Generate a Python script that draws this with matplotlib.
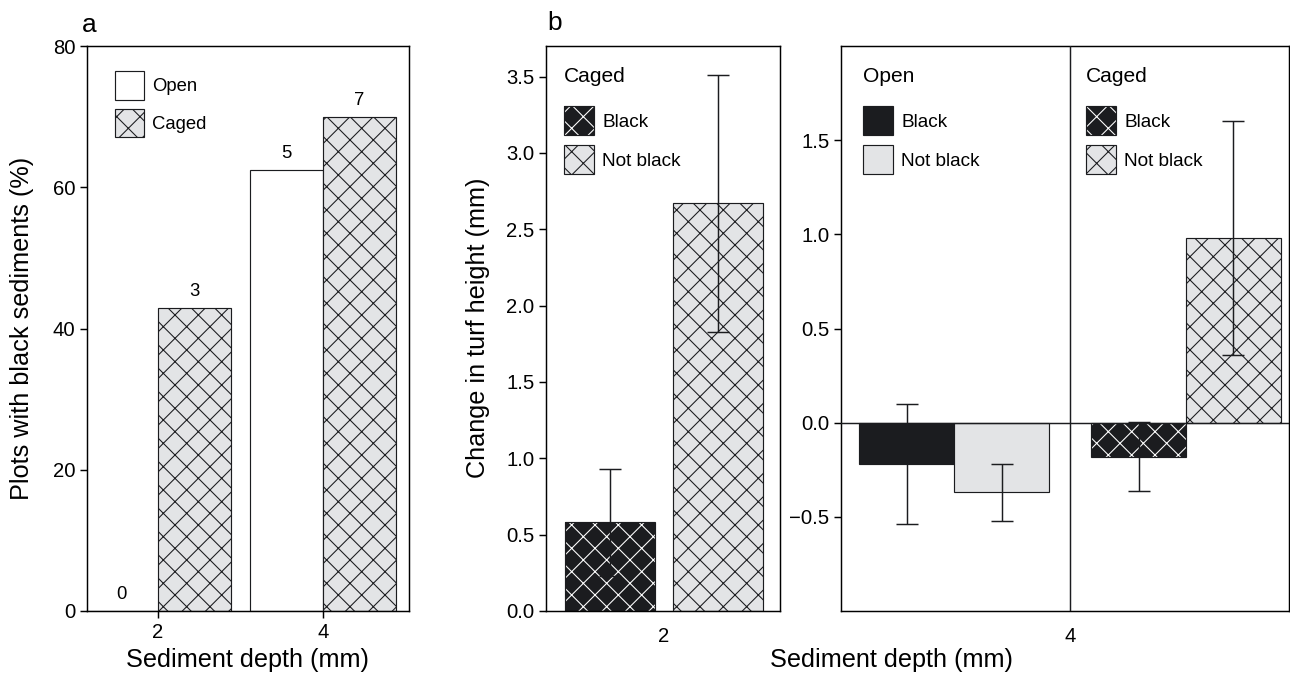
import matplotlib
matplotlib.use('Agg')
import matplotlib.pyplot as plt
from matplotlib.patches import Patch

plt.rcParams['font.family'] = ['Liberation Sans', 'DejaVu Sans']
plt.rcParams['hatch.linewidth'] = 0.55
plt.rcParams['axes.linewidth'] = 0.75

# panel a: % plots with black sediments
depth_a = [2, 4]
open_pct = [0, 62.5]
caged_pct = [42.9, 70.0]
open_n = [0, 5]
caged_n = [3, 7]

# panel b, depth 2 mm (caged only)
caged2_mean = [0.58, 2.67]
caged2_err = [0.35, 0.84]
# panel b, depth 4 mm
open4_mean = [-0.22, -0.37]
open4_err = [0.32, 0.15]
caged4_mean = [-0.18, 0.98]
caged4_err = [0.185, 0.62]

GREY = '#e3e4e6'
BLACK = '#1b1c1f'
HATCH = 'xx'
W, H, DPI = 1290, 673, 140

fig = plt.figure(figsize=(W / DPI, H / DPI), dpi=DPI)


def box(x0, x1, top=46, bot=611):
    return [x0 / W, 1 - bot / H, (x1 - x0) / W, (bot - top) / H]


def hatched_bar(ax, x, y, w, dark):
    if dark:
        ax.bar(x, y, w, color=BLACK, edgecolor='white', hatch=HATCH, linewidth=0, zorder=2)
        ax.bar(x, y, w, fill=False, edgecolor=BLACK, linewidth=0.6, zorder=2)
    else:
        ax.bar(x, y, w, color=GREY, edgecolor=BLACK, hatch=HATCH, linewidth=0.6, zorder=2)


h_open = Patch(facecolor='white', edgecolor=BLACK, linewidth=0.6)
h_grey = Patch(facecolor=GREY, edgecolor=BLACK, linewidth=0.6)
h_grey_x = Patch(facecolor=GREY, edgecolor=BLACK, hatch=HATCH, linewidth=0.6)
h_black = Patch(facecolor=BLACK, edgecolor=BLACK, linewidth=0.6)
h_black_x = (Patch(facecolor=BLACK, edgecolor='white', hatch=HATCH, linewidth=0),
             Patch(fill=False, edgecolor=BLACK, linewidth=0.6))

leg_kw = dict(frameon=False, borderpad=0, borderaxespad=0, handlelength=1.55,
              handleheight=2.0, labelspacing=0.5, handletextpad=0.45, loc='upper left')

# ---------- panel a ----------
axa = fig.add_axes(box(87, 409))
w = 0.88
xo = [d - w / 2 for d in depth_a]
xc = [d + w / 2 for d in depth_a]
axa.bar(xo, open_pct, w, color='white', edgecolor=BLACK, linewidth=0.6, zorder=2)
for x, y in zip(xc, caged_pct):
    hatched_bar(axa, x, y, w, False)
for x, y, n in zip(xo, open_pct, open_n):
    axa.annotate(str(n), (x, y), xytext=(0, 4), textcoords='offset points',
                 ha='center', va='bottom', fontsize=9.5)
for x, y, n in zip(xc, caged_pct, caged_n):
    axa.annotate(str(n), (x, y), xytext=(0, 4), textcoords='offset points',
                 ha='center', va='bottom', fontsize=9.5)
axa.set_xlim(1.14, 5.04)
axa.set_ylim(0, 80)
axa.set_xticks(depth_a)
axa.set_yticks([0, 20, 40, 60, 80])
axa.tick_params(labelsize=10.4, length=3.5, width=0.75, pad=2.5)
axa.legend([h_open, h_grey_x], ['Open', 'Caged'], fontsize=9.5,
           bbox_to_anchor=(28 / 322, 1 - 25 / 565), **leg_kw)

# ---------- panel b, 2 mm ----------
axl = fig.add_axes(box(546, 780))
wb = 0.84
xl = [-0.5, 0.5]
for x, y, dark in zip(xl, caged2_mean, [True, False]):
    hatched_bar(axl, x, y, wb, dark)
axl.errorbar(xl, caged2_mean, yerr=caged2_err, fmt='none', ecolor=BLACK,
             elinewidth=0.75, capsize=5.6, capthick=0.75, zorder=3)
axl.set_xlim(-1.1, 1.08)
axl.set_ylim(0, 3.7)
axl.set_xticks([0])
axl.set_xticklabels(['2'])
axl.set_yticks([0, 0.5, 1, 1.5, 2, 2.5, 3, 3.5])
axl.set_yticklabels(['%.1f' % v for v in axl.get_yticks()])
axl.tick_params(axis='y', labelsize=10.4, length=3.5, width=0.75, pad=2.5)
axl.tick_params(axis='x', labelsize=10.4, length=0, pad=8)
axl.text(18 / 234, 1 - 31 / 565, 'Caged', transform=axl.transAxes, fontsize=10.8,
         ha='left', va='center')
axl.legend([h_black_x, h_grey_x], ['Black', 'Not black'], fontsize=9.8,
           bbox_to_anchor=(18 / 234, 1 - 60 / 565), **leg_kw)

# ---------- panel b, 4 mm ----------
axr = fig.add_axes(box(841, 1289))
xr_open = [-1.716, -0.718]
xr_caged = [0.724, 1.72]
axr.bar(xr_open, open4_mean, 1.0, color=[BLACK, GREY], edgecolor=BLACK,
        linewidth=0.6, zorder=2)
for x, y, dark in zip(xr_caged, caged4_mean, [True, False]):
    hatched_bar(axr, x, y, 1.0, dark)
axr.errorbar(xr_open + xr_caged, open4_mean + caged4_mean,
             yerr=open4_err + caged4_err, fmt='none', ecolor=BLACK,
             elinewidth=0.75, capsize=5.6, capthick=0.75, zorder=3)
axr.axhline(0, color=BLACK, linewidth=0.75, zorder=4)
axr.axvline(0, color=BLACK, linewidth=0.75, zorder=4)
axr.set_xlim(-2.41, 2.305)
axr.set_ylim(-1, 2)
axr.set_xticks([0])
axr.set_xticklabels(['4'])
axr.set_yticks([-0.5, 0, 0.5, 1, 1.5])
axr.set_yticklabels(['\u22120.5', '0.0', '0.5', '1.0', '1.5'])
axr.tick_params(axis='y', labelsize=10.4, length=3.5, width=0.75, pad=2.5)
axr.tick_params(axis='x', labelsize=10.4, length=0, pad=8)
axr.text(22 / 448, 1 - 31 / 565, 'Open', transform=axr.transAxes, fontsize=10.8,
         ha='left', va='center')
axr.text(245 / 448, 1 - 31 / 565, 'Caged', transform=axr.transAxes, fontsize=10.8,
         ha='left', va='center')
leg1 = axr.legend([h_black, h_grey], ['Black', 'Not black'], fontsize=9.8,
                  bbox_to_anchor=(22 / 448, 1 - 60 / 565), **leg_kw)
axr.add_artist(leg1)
axr.legend([h_black_x, h_grey_x], ['Black', 'Not black'], fontsize=9.8,
           bbox_to_anchor=(245 / 448, 1 - 60 / 565), **leg_kw)

# labels
fig.text(248 / W, 1 - 660 / H, 'Sediment depth (mm)', ha='center', va='center', fontsize=13)
fig.text(891 / W, 1 - 660 / H, 'Sediment depth (mm)', ha='center', va='center', fontsize=13)
fig.text(22 / W, 1 - 328 / H, 'Plots with black sediments (%)', rotation=90,
         ha='center', va='center', fontsize=13)
fig.text(478 / W, 1 - 328 / H, 'Change in turf height (mm)', rotation=90,
         ha='center', va='center', fontsize=13)
fig.text(82 / W, 1 - 25 / H, 'a', ha='left', va='center', fontsize=13.5)
fig.text(547 / W, 1 - 23 / H, 'b', ha='left', va='center', fontsize=13.5)

fig.savefig('out.png', dpi=DPI)
